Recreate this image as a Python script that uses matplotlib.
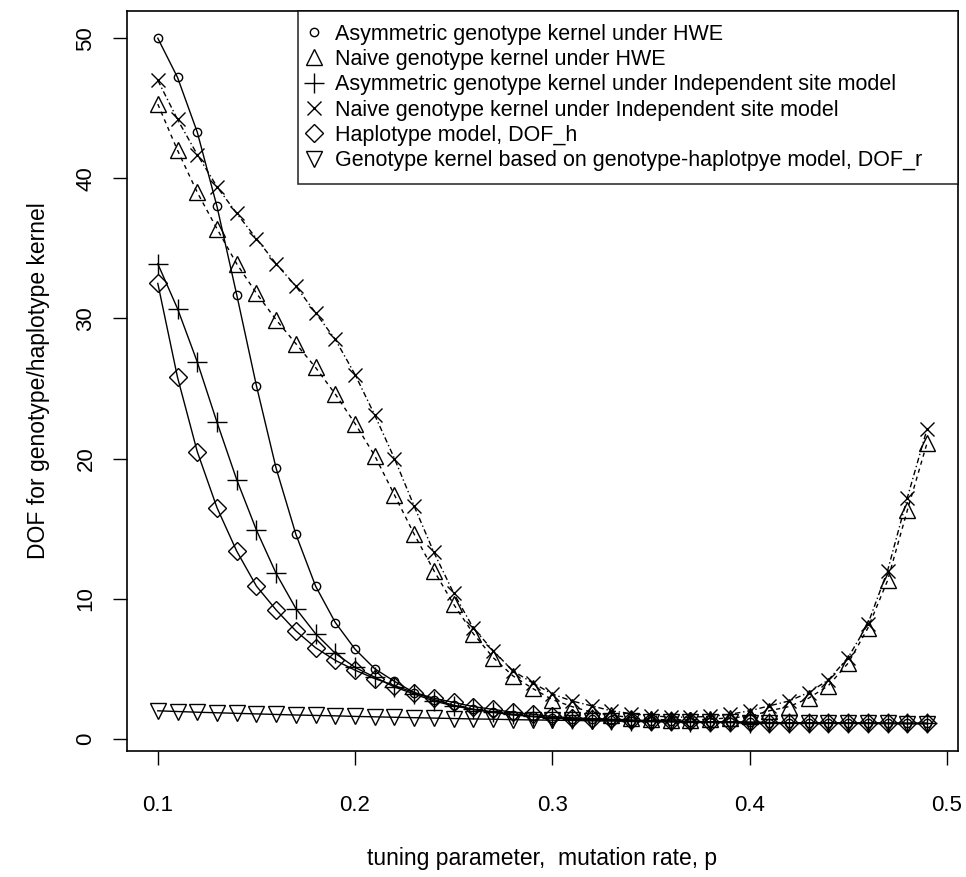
import numpy as np
import matplotlib.pyplot as plt

plt.rcParams['font.family'] = ['Liberation Sans', 'DejaVu Sans']

p = np.round(np.arange(0.10, 0.495, 0.01), 2)

asym_hwe = [50.0, 47.2, 43.3, 38.0, 31.7, 25.2, 19.3, 14.6, 10.9, 8.3,
            6.4, 5.0, 4.1, 3.3, 2.8, 2.4, 2.1, 1.9, 1.7, 1.6,
            1.5, 1.45, 1.4, 1.35, 1.3, 1.28, 1.25, 1.22, 1.2, 1.2,
            1.18, 1.16, 1.15, 1.14, 1.13, 1.12, 1.12, 1.11, 1.1, 1.1]
naive_hwe = [45.3, 42.0, 39.0, 36.4, 33.9, 31.8, 29.9, 28.2, 26.5, 24.6,
             22.5, 20.2, 17.4, 14.6, 12.0, 9.6, 7.5, 5.8, 4.5, 3.6,
             2.8, 2.3, 1.9, 1.7, 1.5, 1.4, 1.35, 1.35, 1.4, 1.5,
             1.6, 2.0, 2.3, 2.9, 3.8, 5.4, 7.9, 11.3, 16.3, 21.1]
asym_ind = [33.9, 30.7, 26.9, 22.6, 18.5, 14.9, 11.8, 9.3, 7.5, 6.1,
            5.1, 4.4, 3.7, 3.2, 2.7, 2.35, 2.1, 1.9, 1.75, 1.6,
            1.5, 1.45, 1.4, 1.35, 1.3, 1.27, 1.24, 1.22, 1.2, 1.18,
            1.16, 1.15, 1.14, 1.13, 1.12, 1.11, 1.11, 1.1, 1.1, 1.1]
naive_ind = [47.0, 44.2, 41.7, 39.4, 37.5, 35.7, 33.9, 32.3, 30.4, 28.5,
             26.0, 23.1, 20.0, 16.6, 13.3, 10.4, 7.9, 6.3, 4.85, 4.0,
             3.2, 2.7, 2.35, 2.0, 1.8, 1.65, 1.55, 1.55, 1.6, 1.75,
             2.0, 2.35, 2.7, 3.3, 4.2, 5.8, 8.2, 12.0, 17.2, 22.1]
haplo = [32.5, 25.8, 20.5, 16.5, 13.4, 10.9, 9.2, 7.7, 6.5, 5.6,
         4.9, 4.3, 3.8, 3.3, 2.9, 2.6, 2.3, 2.1, 1.9, 1.75,
         1.6, 1.5, 1.45, 1.4, 1.35, 1.3, 1.27, 1.24, 1.22, 1.2,
         1.18, 1.16, 1.15, 1.14, 1.13, 1.12, 1.12, 1.11, 1.1, 1.1]
geno_hap = [2.0, 1.95, 1.9, 1.86, 1.82, 1.78, 1.74, 1.7, 1.67, 1.64,
            1.6, 1.57, 1.54, 1.51, 1.48, 1.45, 1.42, 1.4, 1.37, 1.35,
            1.33, 1.31, 1.29, 1.27, 1.25, 1.23, 1.21, 1.2, 1.18, 1.17,
            1.16, 1.15, 1.14, 1.13, 1.12, 1.11, 1.1, 1.1, 1.09, 1.09]

labels = ["Asymmetric genotype kernel under HWE",
          "Naive genotype kernel under HWE",
          "Asymmetric genotype kernel under Independent site model",
          "Naive genotype kernel under Independent site model",
          "Haplotype model, DOF_h",
          "Genotype kernel based on genotype-haplotpye model, DOF_r"]

series = [asym_hwe, naive_hwe, asym_ind, naive_ind, haplo, geno_hap]
markers = ["o", "^", "+", "x", "D", "v"]
sizes = [6, 12, 14, 10, 9, 12]
styles = ["-", (0, (3, 3)), "-", (0, (4, 2, 1, 2)), "-", "-"]

fig = plt.figure(figsize=(9.66, 8.77), dpi=100)
ax = fig.add_axes([0.1315, 0.1437, 0.86, 0.844])

for y, m, ms, ls, lab in zip(series, markers, sizes, styles, labels):
    ax.plot(p, y, color="black", linestyle=ls, linewidth=1.0,
            marker=m, markersize=ms, markerfacecolor="none",
            markeredgecolor="black", markeredgewidth=1.0, label=lab)

ax.margins(x=0.04, y=0.04)
ax.set_xticks([0.1, 0.2, 0.3, 0.4, 0.5])
ax.set_xticklabels(["0.1", "0.2", "0.3", "0.4", "0.5"])
ax.set_yticks([0, 10, 20, 30, 40, 50])
ax.tick_params(direction="out", length=10, width=1.0, labelsize=16)
ax.tick_params(axis="x", pad=22)
ax.tick_params(axis="y", pad=12)
for t in ax.get_yticklabels():
    t.set_rotation(90)
    t.set_va("center")

for s in ax.spines.values():
    s.set_linewidth(1.2)

ax.set_xlabel("tuning parameter,  mutation rate, p", fontsize=16.5, labelpad=22)
ax.set_ylabel("DOF for genotype/haplotype kernel", fontsize=16.5, labelpad=18)

leg = ax.legend(loc="upper right", bbox_to_anchor=(0.2058, 0, 0.7942, 1),
                mode="expand", fontsize=15.5, frameon=True, fancybox=False,
                edgecolor="black", borderaxespad=0, borderpad=0.6,
                handlelength=0.3, handletextpad=0.84, labelspacing=0.2)
leg.get_frame().set_linewidth(1.2)
for h in leg.legend_handles:
    h.set_linestyle("none")

fig.savefig("out.png", dpi=100)
